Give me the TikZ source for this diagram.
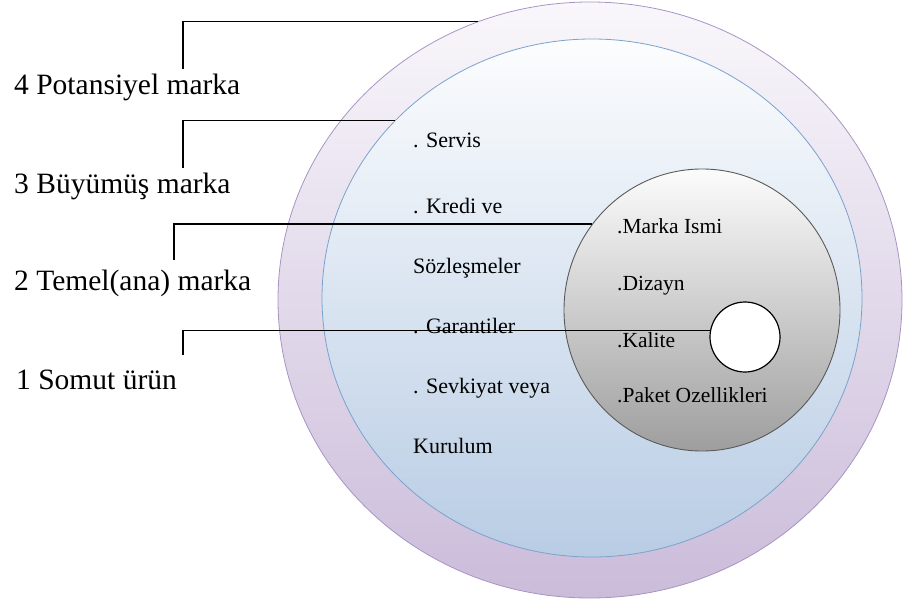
\documentclass[tikz,border=0pt]{standalone}
\usepackage{fontspec}
\setmainfont{Liberation Serif}
\usepackage{xcolor}
\usetikzlibrary{shapes.geometric}

\definecolor{ringline}{RGB}{168,148,196}
\definecolor{ringtop}{RGB}{249,247,251}
\definecolor{ringbot}{RGB}{203,188,218}
\definecolor{bandline}{RGB}{122,162,206}
\definecolor{bandtop}{RGB}{252,253,254}
\definecolor{bandbot}{RGB}{184,204,228}
\definecolor{coreline}{RGB}{90,90,90}
\definecolor{coretop}{RGB}{252,252,252}
\definecolor{corebot}{RGB}{158,158,158}

\begin{document}
\begin{tikzpicture}[
  x=1pt, y=-1pt,
  ring/.style={ellipse, draw, inner sep=0pt},
  lab/.style={anchor=base west, inner sep=0pt, font=\fontsize{29.5}{32}\selectfont},
  item/.style={anchor=base west, inner sep=0pt, font=\fontsize{22}{24}\selectfont},
  coreitem/.style={item, font=\fontsize{21.5}{24}\selectfont},
  link/.style={draw=black, line width=1.3pt}
]
\useasboundingbox (0,0) rectangle (905,605);
% circles
\node[ring, draw=ringline, line width=0.8pt, top color=ringtop, bottom color=ringbot,
  minimum width=624pt, minimum height=596pt] (outer) at (590,300) {};
\node[ring, draw=bandline, line width=0.8pt, top color=bandtop, bottom color=bandbot,
  minimum width=540pt, minimum height=518pt] (band) at (592,298) {};
\node[ring, draw=coreline, line width=0.9pt, top color=coretop, bottom color=corebot,
  minimum width=276pt, minimum height=282pt] (core) at (702,310) {};
\node[circle, draw, fill=white, line width=1.2pt, minimum size=70pt, inner sep=0pt] (kernel) at (745,337) {};
% labels
\node[lab] (potential) at (14,94) {4 Potansiyel marka};
\node[lab] (grown) at (14,193) {3 Büyümüş marka};
\node[lab] (basic) at (14,290) {2 Temel(ana) marka};
\node[lab] (tangible) at (16,389) {1 Somut ürün};
% items in the band
\node[item] (servis) at (413,147) {. Servis};
\node[item] (kredi) at (413,213) {. Kredi ve};
\node[item] (sozl) at (413,273) {Sözleşmeler};
\node[item] (garanti) at (413,333) {. Garantiler};
\node[item] (sevk) at (413,393) {. Sevkiyat veya};
\node[item] (kurulum) at (413,453) {Kurulum};
% items in the core
\node[coreitem] (isim) at (617,233) {.Marka Ismi};
\node[coreitem] (dizayn) at (617,290) {.Dizayn};
\node[coreitem] (kalite) at (617,347) {.Kalite};
\node[coreitem] (paket) at (617,402) {.Paket Ozellikleri};
% connectors
\coordinate (c4) at (183,69);
\coordinate (c3) at (183,168);
\coordinate (c2) at (174,260);
\coordinate (c1) at (183,355);
\draw[link] (c4) |- (outer.112.1);
\draw[link] (c3) |- (band.138.4);
\draw[link] (c2) |- (core.142.9);
\draw[link] (c1) |- (kernel.170.3);
\end{tikzpicture}
\end{document}
